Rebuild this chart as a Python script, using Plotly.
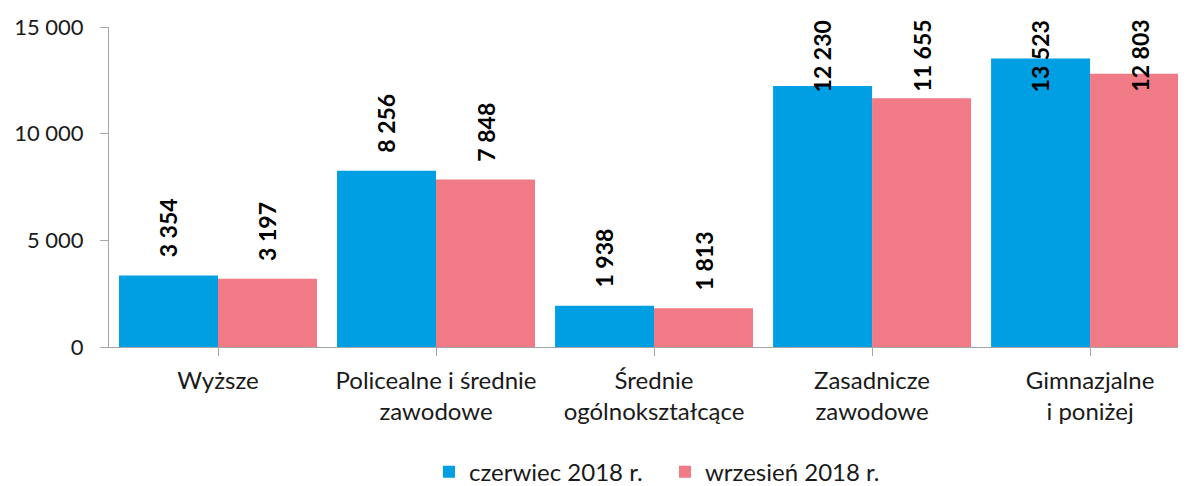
import plotly.graph_objects as go

categories = ["Wyższe", "Policealne i średnie<br>zawodowe", "Średnie<br>ogólnokształcące",
              "Zasadnicze<br>zawodowe", "Gimnazjalne<br>i poniżej"]
series_names = ["czerwiec 2018 r.", "wrzesień 2018 r."]
june_values = [3354, 8256, 1938, 12230, 13523]
sept_values = [3197, 7848, 1813, 11655, 12803]
y_ticks = [0, 5000, 10000, 15000]
y_tick_labels = ["0", "5 000", "10 000", "15 000"]

colors = ["#009FE3", "#F07A85"]
FONT = "Lato"

fig = go.Figure()
for name, vals, col in zip(series_names, [june_values, sept_values], colors):
    fig.add_trace(go.Bar(name=name, x=list(range(len(categories))), y=vals,
                         marker=dict(color=col, line=dict(width=0)), hoverinfo="skip"))

# data labels, rotated, clamped at the top of the plotting area
cap = 11110
offsets = [-0.2275, 0.2275]
for off, vals in zip(offsets, [june_values, sept_values]):
    for i, v in enumerate(vals):
        fig.add_annotation(x=i + off, y=min(v, cap), xref="x", yref="y",
                           text=f"{v:,}".replace(",", " "), showarrow=False,
                           textangle=-90, yanchor="bottom", xanchor="center", yshift=16,
                           font=dict(family=FONT, size=23, color="#000000", weight="bold"))

# page body has an 8px margin, so the figure is drawn at (8, 8)
fig.update_layout(
    width=1178, height=478,
    margin=dict(l=101, r=0, t=19, b=139),
    paper_bgcolor="white", plot_bgcolor="white",
    barmode="group", bargap=0.092, bargroupgap=0,
    separators=", ",
    font=dict(family=FONT, size=24, color="#1a1a1a"),
    showlegend=True,
    legend=dict(orientation="h", x=0.5577, xanchor="center", xref="container",
                y=0.029, yref="container", yanchor="middle",
                font=dict(family=FONT, size=24, color="#1a1a1a"),
                itemwidth=30, traceorder="normal", entrywidth=191),
)
fig.update_xaxes(range=[-0.5, 4.44], tickvals=list(range(len(categories))), ticktext=categories,
                 showline=True, linecolor="#A6A6A6", linewidth=1, ticks="outside", ticklen=8,
                 tickcolor="#A6A6A6", tickson="boundaries", showgrid=False, zeroline=False,
                 ticklabelstandoff=4,
                 tickfont=dict(family=FONT, size=24, color="#1a1a1a"), fixedrange=True)
fig.update_yaxes(range=[0, 15000], tickvals=y_ticks, ticktext=y_tick_labels,
                 showline=True, linecolor="#A6A6A6", linewidth=1, ticks="outside", ticklen=8,
                 tickcolor="#A6A6A6", showgrid=False, zeroline=False, ticklabelstandoff=12,
                 tickfont=dict(family=FONT, size=22, color="#1a1a1a"), fixedrange=True)

fig.write_html("out.html")
